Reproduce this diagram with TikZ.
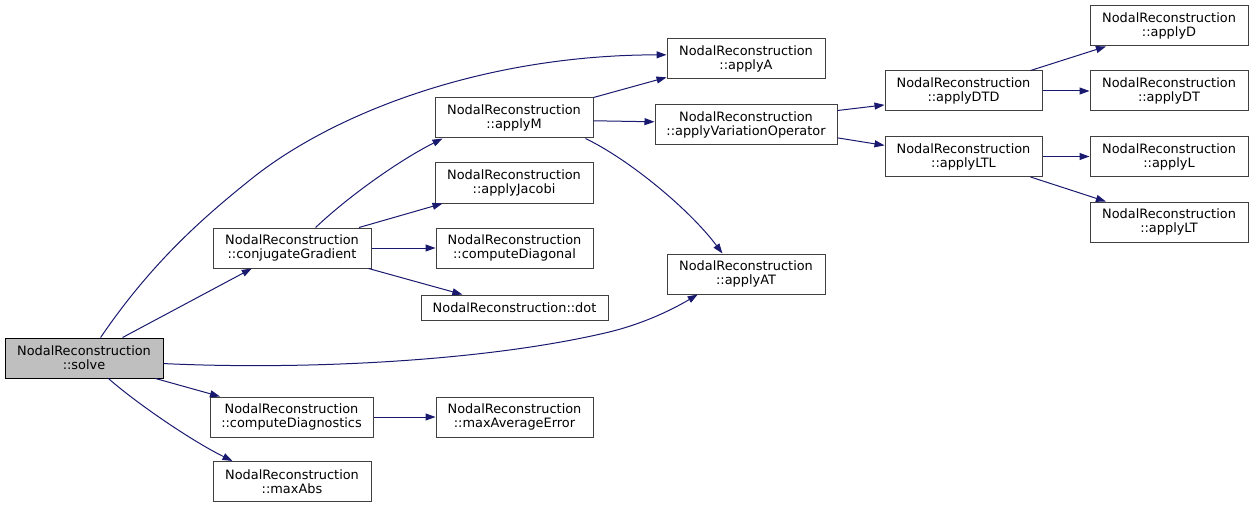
\documentclass[tikz,border=0pt]{standalone}
\usepackage{fontspec}
\setmainfont{DejaVu Sans}
\usepackage{tikz}
\usetikzlibrary{arrows.meta}
\definecolor{EdgeColor}{RGB}{25,25,112}
\definecolor{BoxColor}{RGB}{64,64,64}
\tikzstyle{fn} = [draw=BoxColor, fill=white, line width=1pt, align=center, inner sep=0pt, minimum height=40pt, font=\fontsize{12.9}{14}\selectfont]
\tikzstyle{root} = [fn, draw=black, fill=black!25]
\tikzstyle{arrow} = [EdgeColor, line width=1pt, -{Triangle[length=10pt,width=7pt]}]

\begin{document}
\begin{tikzpicture}[x=1pt, y=-1pt]
  \useasboundingbox (0,0) rectangle (1253,508);

  % Caller
  \node[root, minimum width=158pt] (solve) at (84,358) {NodalReconstruction\\::solve};

  % First level
  \node[fn, minimum width=158pt] (cg) at (292,248) {NodalReconstruction\\::conjugateGradient};
  \node[fn, minimum width=163pt] (cd) at (291.5,417) {NodalReconstruction\\::computeDiagnostics};
  \node[fn, minimum width=158pt] (ma) at (292,481.5) {NodalReconstruction\\::maxAbs};

  % Second level
  \node[fn, minimum width=158pt] (am) at (514,118) {NodalReconstruction\\::applyM};
  \node[fn, minimum width=158pt] (aj) at (514,183) {NodalReconstruction\\::applyJacobi};
  \node[fn, minimum width=157pt] (cdg) at (514.5,248) {NodalReconstruction\\::computeDiagonal};
  \node[fn, minimum width=187pt, minimum height=25pt] (dot) at (514.5,307.5) {NodalReconstruction::dot};
  \node[fn, minimum width=157pt] (mae) at (514.5,417) {NodalReconstruction\\::maxAverageError};

  % Third level
  \node[fn, minimum width=158pt] (aA) at (746,59) {NodalReconstruction\\::applyA};
  \node[fn, minimum width=182pt] (avo) at (746,125) {NodalReconstruction\\::applyVariationOperator};
  \node[fn, minimum width=158pt] (at) at (746,274) {NodalReconstruction\\::applyAT};

  % Fourth level
  \node[fn, minimum width=157pt] (dtd) at (963.5,91) {NodalReconstruction\\::applyDTD};
  \node[fn, minimum width=157pt] (ltl) at (963.5,156.5) {NodalReconstruction\\::applyLTL};

  % Fifth level
  \node[fn, minimum width=158pt] (ad) at (1169,26) {NodalReconstruction\\::applyD};
  \node[fn, minimum width=158pt] (adt) at (1169,91) {NodalReconstruction\\::applyDT};
  \node[fn, minimum width=158pt] (al) at (1169,156.5) {NodalReconstruction\\::applyL};
  \node[fn, minimum width=158pt] (alt) at (1169,222) {NodalReconstruction\\::applyLT};

  % Calls from solve
  \draw[arrow] (solve.51) .. controls (150,265) and (200,220) .. (250,180)
    .. controls (330,115) and (480,55) .. (aA.177);
  \draw[arrow] (solve.28) -- (cg.207);
  \draw[arrow] (solve.-4) .. controls (300,370) and (480,362) .. (605,333)
    .. controls (640,325) and (670,311) .. (at.203);
  \draw[arrow] (solve.-16) -- (cd.164);
  \draw[arrow] (solve.-40) .. controls (135,402) and (190,440) .. (ma.161);

  % Calls from conjugateGradient
  \draw[arrow] (cg.41) .. controls (350,195) and (400,160) .. (am.196);
  \draw[arrow] (cg.17) -- (aj.196);
  \draw[arrow] (cg.east) -- (cdg.west);
  \draw[arrow] (cg.-15) -- (dot.166);
  \draw[arrow] (cd.east) -- (mae.west);

  % Calls from applyM
  \draw[arrow] (am.north east) -- (aA.193);
  \draw[arrow] (am.-2) -- (avo.178);
  \draw[arrow] (am.-16) .. controls (630,160) and (690,210) .. (at.139);

  % Operators
  \draw[arrow] (avo.9) -- (dtd.190);
  \draw[arrow] (avo.-8) -- (ltl.172);
  \draw[arrow] (dtd.17) -- (ad.198);
  \draw[arrow] (dtd.east) -- (adt.west);
  \draw[arrow] (ltl.east) -- (al.west);
  \draw[arrow] (ltl.-17) -- (alt.162);
\end{tikzpicture}
\end{document}
